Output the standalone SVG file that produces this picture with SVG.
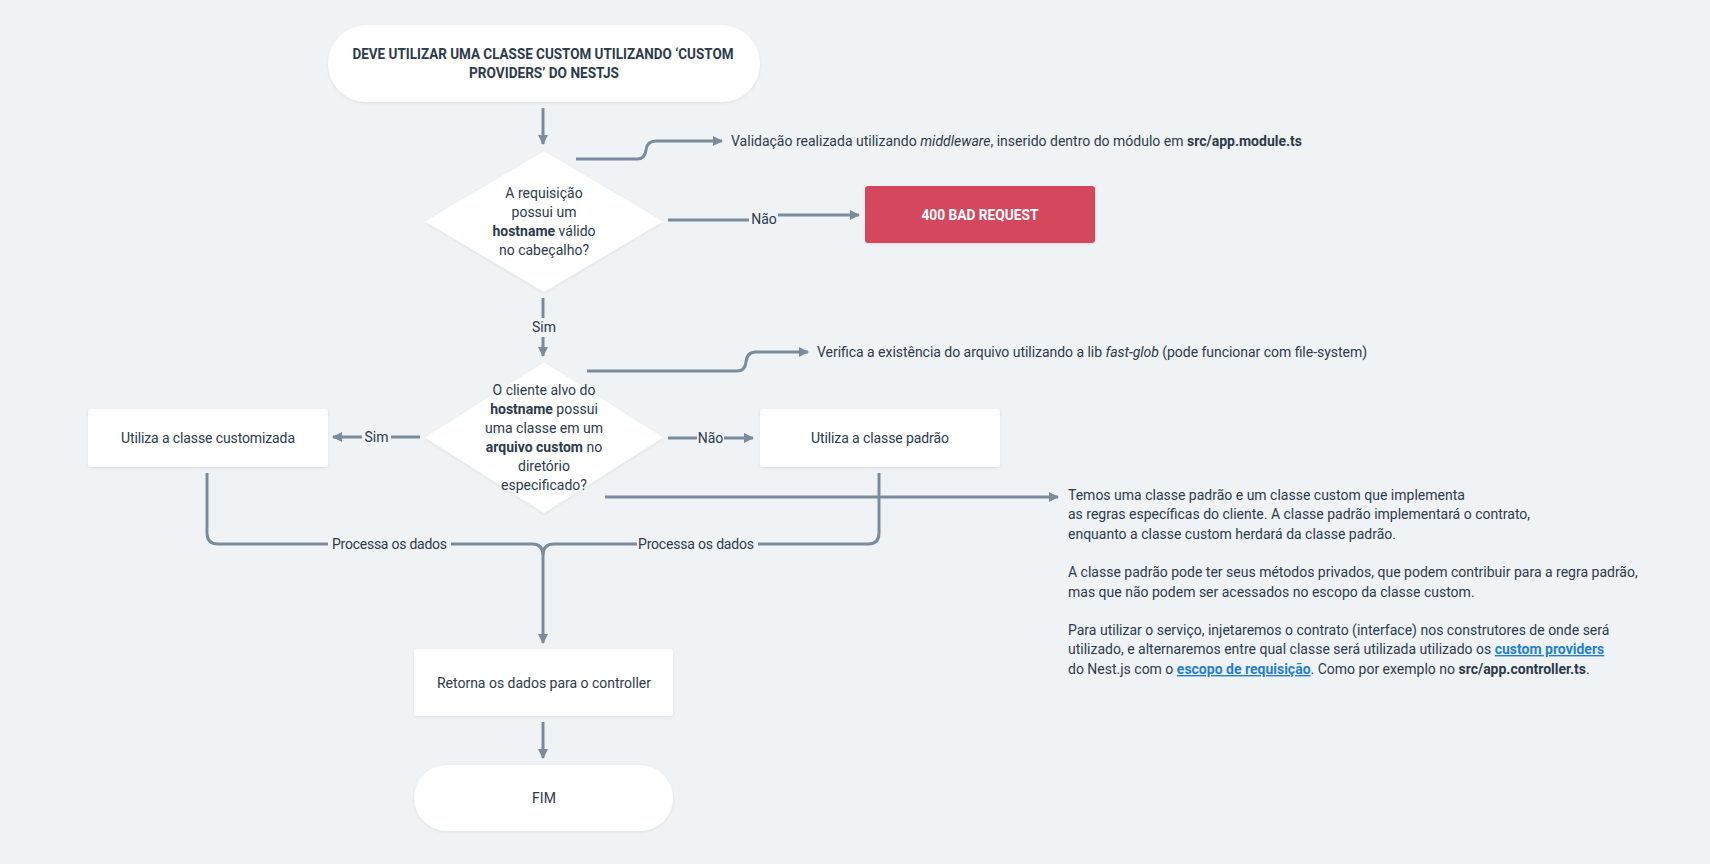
<svg xmlns="http://www.w3.org/2000/svg" width="1710" height="864" viewBox="0 0 1710 864">
<defs>
<style>
.bg{fill:#eff3f6}
.node{fill:#ffffff;filter:url(#sh)}
.bad{fill:#d4465c;filter:url(#sh)}
.t{font-family:Roboto,"Liberation Sans",sans-serif;font-size:14px;fill:#2c3a4b}
.c{text-anchor:middle}
.b{font-weight:bold}
.i{font-style:italic}
.ttl{font-family:Roboto,"Liberation Sans",sans-serif;font-size:15px;font-weight:bold;fill:#2c3a4b;text-anchor:middle}
.wt{font-family:Roboto,"Liberation Sans",sans-serif;font-size:15px;font-weight:bold;fill:#ffffff;text-anchor:middle}
.lk{font-weight:bold;fill:#1f7fd8;text-decoration:underline}
.ln{fill:none;stroke:#7a8b9b;stroke-width:3}
.ar{marker-end:url(#ah)}
</style>
<filter id="sh" x="-10%" y="-20%" width="120%" height="150%">
<feDropShadow dx="0" dy="1" stdDeviation="1.5" flood-color="#000000" flood-opacity="0.08"/>
</filter>
<marker id="ah" markerUnits="userSpaceOnUse" markerWidth="10" markerHeight="10" refX="9" refY="5" orient="auto">
<path d="M0,0 L10,5 L0,10 z" fill="#7a8b9b"/>
</marker>
</defs>
<rect class="bg" x="0" y="0" width="1710" height="864"/>

<g id="connectors">
<path class="ln ar" d="M543,108 V144"/>
<path class="ln ar" d="M576,159 H637 Q645,159 646,150 Q647,141 656,141 H722"/>
<path class="ln" d="M668,220 H749"/>
<path class="ln ar" d="M778,215 H859"/>
<path class="ln" d="M543,298 V318"/>
<path class="ln ar" d="M543,337 V356"/>
<path class="ln ar" d="M587,371 H737 Q745,371 746,362 Q747,352 756,352 H808"/>
<path class="ln" d="M420,437 H391"/>
<path class="ln ar" d="M362,437 H333"/>
<path class="ln" d="M668,438 H697"/>
<path class="ln ar" d="M724,438 H753"/>
<path class="ln ar" d="M605,497 H1058"/>
<path class="ln" d="M207,473 V533 Q207,544 218,544 H328"/>
<path class="ln ar" d="M451,544 H532 Q543,544 543,555 V643"/>
<path class="ln" d="M879,473 V533 Q879,544 868,544 H758"/>
<path class="ln" d="M637,544 H554 Q543,544 543,555"/>
<path class="ln ar" d="M543,722 V758"/>
<text class="t c" x="544" y="332">Sim</text>
<text class="t c" x="764" y="224">Não</text>
<text class="t c" x="376.5" y="442">Sim</text>
<text class="t c" x="710.5" y="443">Não</text>
<text class="t c" x="389.5" y="549" textLength="115" lengthAdjust="spacing">Processa os dados</text>
<text class="t c" x="696" y="549" textLength="116" lengthAdjust="spacing">Processa os dados</text>
</g>

<g id="start">
<rect class="node" x="328" y="25" width="432" height="77" rx="38.5"/>
<text class="ttl" x="543" y="59" textLength="381" lengthAdjust="spacingAndGlyphs">DEVE UTILIZAR UMA CLASSE CUSTOM UTILIZANDO ‘CUSTOM</text>
<text class="ttl" x="544" y="78" textLength="150" lengthAdjust="spacingAndGlyphs">PROVIDERS’ DO NESTJS</text>
</g>

<g id="note-middleware">
<text class="t" x="731" y="146" textLength="571" lengthAdjust="spacing">Validação realizada utilizando <tspan class="i">middleware</tspan>, inserido dentro do módulo em <tspan class="b">src/app.module.ts</tspan></text>
</g>

<g id="decision-hostname">
<polygon class="node" points="544,151 663,221.5 544,292 425,221.5"/>
<text class="t c" x="544" y="198">A requisição</text>
<text class="t c" x="544" y="217">possui um</text>
<text class="t c" x="544" y="236"><tspan class="b">hostname</tspan> válido</text>
<text class="t c" x="544" y="255">no cabeçalho?</text>
</g>

<g id="bad-request">
<rect class="bad" x="865" y="186" width="230" height="57" rx="3"/>
<text class="wt" x="980" y="220" textLength="117" lengthAdjust="spacingAndGlyphs">400 BAD REQUEST</text>
</g>

<g id="note-fastglob">
<text class="t" x="817" y="357" textLength="550" lengthAdjust="spacing">Verifica a existência do arquivo utilizando a lib <tspan class="i">fast-glob</tspan> (pode funcionar com file-system)</text>
</g>

<g id="decision-custom">
<polygon class="node" points="544,362 663,437.5 544,513 425,437.5"/>
<text class="t c" x="544" y="395">O cliente alvo do</text>
<text class="t c" x="544" y="414"><tspan class="b">hostname</tspan> possui</text>
<text class="t c" x="544" y="433">uma classe em um</text>
<text class="t c" x="544" y="452"><tspan class="b">arquivo custom</tspan> no</text>
<text class="t c" x="544" y="471">diretório</text>
<text class="t c" x="544" y="490">especificado?</text>
</g>

<g id="custom-class">
<rect class="node" x="88" y="409" width="240" height="58" rx="3"/>
<text class="t c" x="208" y="443" textLength="174" lengthAdjust="spacing">Utiliza a classe customizada</text>
</g>

<g id="default-class">
<rect class="node" x="760" y="409" width="240" height="58" rx="3"/>
<text class="t c" x="880" y="443" textLength="138" lengthAdjust="spacing">Utiliza a classe padrão</text>
</g>

<g id="note-classes">
<text class="t" x="1068" y="500">Temos uma classe padrão e um classe custom que implementa</text>
<text class="t" x="1068" y="519">as regras específicas do cliente. A classe padrão implementará o contrato,</text>
<text class="t" x="1068" y="539">enquanto a classe custom herdará da classe padrão.</text>
<text class="t" x="1068" y="577">A classe padrão pode ter seus métodos privados, que podem contribuir para a regra padrão,</text>
<text class="t" x="1068" y="597">mas que não podem ser acessados no escopo da classe custom.</text>
<text class="t" x="1068" y="635">Para utilizar o serviço, injetaremos o contrato (interface) nos construtores de onde será</text>
<text class="t" x="1068" y="654">utilizado, e alternaremos entre qual classe será utilizada utilizado os <tspan class="lk">custom providers</tspan></text>
<text class="t" x="1068" y="674">do Nest.js com o <tspan class="lk">escopo de requisição</tspan>. Como por exemplo no <tspan class="b">src/app.controller.ts</tspan>.</text>
</g>

<g id="return-data">
<rect class="node" x="414" y="649" width="259" height="67" rx="3"/>
<text class="t c" x="544" y="688" textLength="214" lengthAdjust="spacing">Retorna os dados para o controller</text>
</g>

<g id="end">
<rect class="node" x="414" y="765" width="259" height="66" rx="33"/>
<text class="t c" x="544" y="803">FIM</text>
</g>
</svg>
